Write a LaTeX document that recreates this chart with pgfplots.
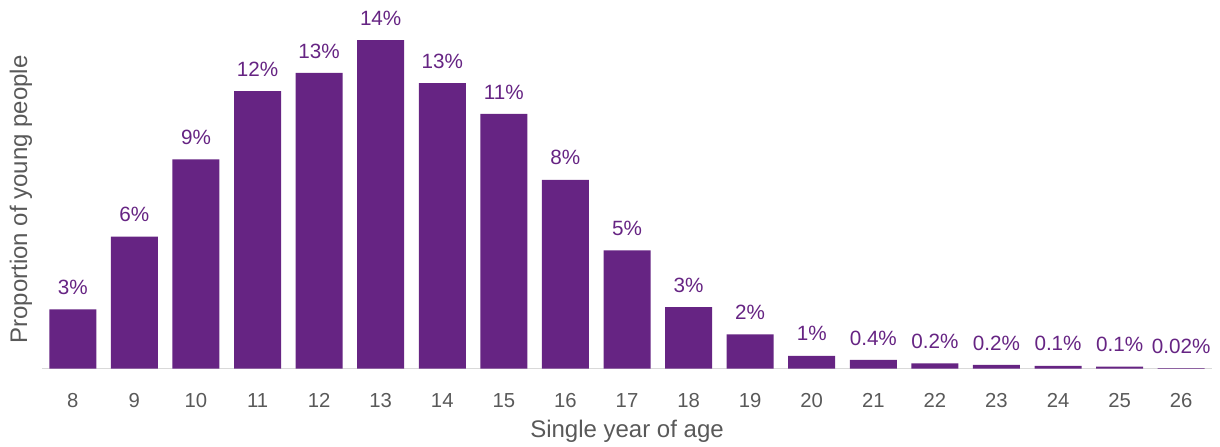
\documentclass[border=0pt]{standalone}
\usepackage{pgfplots}
\pgfplotsset{compat=1.18}
\usepackage{fontspec}
\setmainfont{Liberation Sans}
\definecolor{barpurple}{HTML}{662483}
\definecolor{axisgray}{HTML}{D9D9D9}
\definecolor{textgray}{HTML}{595959}
\begin{document}
\begin{tikzpicture}
\begin{axis}[
  name=ax,
  scale only axis,
  width=877.5pt, height=276.4pt,
  xmin=7.5, xmax=26.5,
  ymin=0, ymax=16.21,
  axis x line*=bottom,
  axis y line*=left,
  x axis line style={draw=axisgray, line width=1pt, -},
  y axis line style={draw=none},
  xtick={8,...,26},
  xtick style={draw=none},
  xticklabel style={anchor=center, yshift=-19.5pt, font=\fontsize{15.2pt}{17pt}\selectfont, text=textgray},
  /pgf/number format/assume math mode=true,
  ytick=\empty,
  xlabel={Single year of age},
  xlabel style={at={(axis description cs:0.5,0)}, anchor=base, yshift=-51.4pt, font=\fontsize{18pt}{20pt}\selectfont, text=textgray},
  ylabel={Proportion of young people},
  ylabel style={at={(axis description cs:-0.01282,0.4586)}, anchor=base, font=\fontsize{18pt}{20pt}\selectfont, text=textgray},
  ybar,
  bar width=35.25pt,
  bar shift=0pt,
  point meta=explicit symbolic,
  nodes near coords={\pgfplotspointmeta\%},
  every node near coord/.append style={anchor=center, yshift=16.5pt, font=\fontsize{15.5pt}{17pt}\selectfont, text=barpurple},
  clip=false,
]
\addplot[fill=barpurple, draw=none] table[x=x, y=y, meta=lab] {
x y lab
8 2.6 3
9 5.8 6
10 9.2 9
11 12.2 12
12 13.0 13
13 14.45 14
14 12.55 13
15 11.2 11
16 8.3 8
17 5.2 5
18 2.7 3
19 1.5 2
20 0.56 1
21 0.38 0.4
22 0.23 0.2
23 0.16 0.2
24 0.12 0.1
25 0.08 0.1
26 0.02 0.02
};
\end{axis}
\pgfresetboundingbox
\path ([xshift=-31.5pt,yshift=-58.1pt]ax.south west) rectangle ([xshift=6pt]ax.north east);
\end{tikzpicture}
\end{document}
